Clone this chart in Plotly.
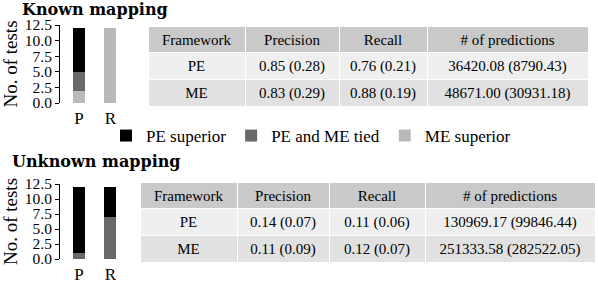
import plotly.graph_objects as go

# ---- data ----
bar_cats = ["P", "R"]
known_pe_superior = [7, 0]
known_tied = [3, 0]
known_me_superior = [2, 12]
unknown_pe_superior = [11, 5]
unknown_tied = [1, 7]
unknown_me_superior = [0, 0]

series_names = ["PE superior", "PE and ME tied", "ME superior"]
series_colors = ["#000000", "#696969", "#b9b9b9"]

table_header = ["Framework", "Precision", "Recall", "# of predictions"]
frameworks = ["PE", "ME"]
known_precision = ["0.85 (0.28)", "0.83 (0.29)"]
known_recall = ["0.76 (0.21)", "0.88 (0.19)"]
known_predictions = ["36420.08 (8790.43)", "48671.00 (30931.18)"]
unknown_precision = ["0.14 (0.07)", "0.11 (0.09)"]
unknown_recall = ["0.11 (0.06)", "0.12 (0.07)"]
unknown_predictions = ["130969.17 (99846.44)", "251333.58 (282522.05)"]

W, H = 598, 285
FONT = "Liberation Serif"
TFONT = "DejaVu Serif"

def px(x):
    return x / W

def py(y):
    return 1 - y / H

fig = go.Figure()

# stacking order bottom->top: ME superior, tied, PE superior
known = [known_me_superior, known_tied, known_pe_superior]
unknown = [unknown_me_superior, unknown_tied, unknown_pe_superior]
order = [2, 1, 0]
for k, idx in enumerate(order):
    fig.add_trace(go.Bar(x=[0, 1], y=known[k], marker_color=series_colors[idx],
                         marker_line_width=0, width=0.39, name=series_names[idx],
                         xaxis="x", yaxis="y", showlegend=True, legendrank=idx))
for k, idx in enumerate(order):
    fig.add_trace(go.Bar(x=[0, 1], y=unknown[k], marker_color=series_colors[idx],
                         marker_line_width=0, width=0.39, name=series_names[idx],
                         xaxis="x2", yaxis="y2", showlegend=False))

TS = 15
cell_fill = [["#efefef", "#e1e1e1"]] * 4
fig.add_trace(go.Table(
    domain=dict(x=[px(148), px(588)], y=[py(108), py(26)]),
    columnwidth=[97, 94, 88, 161],
    header=dict(values=table_header, fill_color="#c9c9c9", line_color="white",
                line_width=1, height=26, align="center",
                font=dict(family=FONT, size=TS, color="black")),
    cells=dict(values=[frameworks, known_precision, known_recall, known_predictions],
               fill_color=cell_fill, line_color="white", line_width=1, height=27,
               align="center", font=dict(family=FONT, size=TS, color="black")),
))
fig.add_trace(go.Table(
    domain=dict(x=[px(140), px(595)], y=[py(264), py(182)]),
    columnwidth=[97, 92, 96, 170],
    header=dict(values=table_header, fill_color="#c9c9c9", line_color="white",
                line_width=1, height=26, align="center",
                font=dict(family=FONT, size=TS, color="black")),
    cells=dict(values=[frameworks, unknown_precision, unknown_recall, unknown_predictions],
               fill_color=cell_fill, line_color="white", line_width=1, height=27,
               align="center", font=dict(family=FONT, size=TS, color="black")),
))

yaxis_common = dict(range=[0, 12.5], tickvals=[0, 2.5, 5, 7.5, 10, 12.5],
                    tickformat=".1f", showgrid=False, zeroline=False,
                    showline=True, linecolor="black", linewidth=1,
                    ticks="outside", ticklen=4, tickcolor="black", automargin=False,
                    title=dict(text="No. of tests", font=dict(family=FONT, size=19, color="black"),
                               standoff=3),
                    tickfont=dict(family=FONT, size=15.5, color="black"))
xaxis_common = dict(range=[-0.61, 1.5], tickvals=[0, 1], ticktext=bar_cats,
                    showgrid=False, zeroline=False, showline=False, ticks="", automargin=False,
                    ticklabelstandoff=3,
                    tickfont=dict(family=FONT, size=17, color="black"))

fig.update_layout(
    width=W, height=H, margin=dict(l=0, r=0, t=0, b=0, autoexpand=False),
    font=dict(family=FONT, color="black"),
    plot_bgcolor="white", paper_bgcolor="white", barmode="stack",
    xaxis=dict(domain=[px(60), px(126)], anchor="y", **xaxis_common),
    yaxis=dict(domain=[py(103), py(25)], anchor="x", **yaxis_common),
    xaxis2=dict(domain=[px(60), px(126)], anchor="y2", **xaxis_common),
    yaxis2=dict(domain=[py(259), py(184)], anchor="x2", **yaxis_common),
    legend=dict(orientation="h", x=px(106), y=py(118), xanchor="left", yanchor="top",
                font=dict(family=FONT, size=17, color="black"), traceorder="normal",
                bgcolor="rgba(0,0,0,0)", itemwidth=30),
    annotations=[
        dict(text="<b>Known mapping</b>", x=px(95), y=py(-1), xref="paper", yref="paper",
             xanchor="center", yanchor="top", showarrow=False, borderpad=0,
             font=dict(family=TFONT, size=16, color="black")),
        dict(text="<b>Unknown mapping</b>", x=px(96), y=py(151), xref="paper", yref="paper",
             xanchor="center", yanchor="top", showarrow=False, borderpad=0,
             font=dict(family=TFONT, size=16, color="black")),
    ],
)

fig.write_html("out.html", config={"displayModeBar": False},
               post_script="document.body.style.margin='0';document.body.style.padding='0';")
